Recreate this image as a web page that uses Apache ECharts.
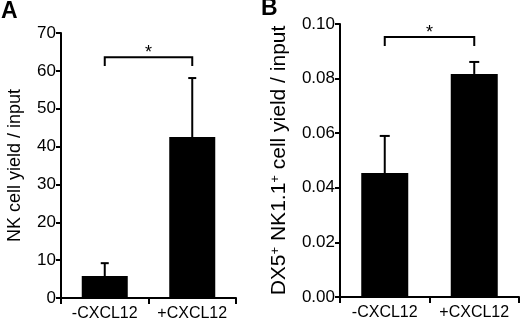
<!DOCTYPE html>
<html>
<head>
<meta charset="utf-8">
<script src="https://cdn.jsdelivr.net/npm/echarts@6/dist/echarts.min.js"></script>
<style>
html, body { margin: 0; padding: 0; background: #fff; }
#chart { width: 520px; height: 324px; }
</style>
</head>
<body>
<div id="chart"></div>
<script>
// categories shared by both panels
var categories = ['-CXCL12', '+CXCL12'];

// panel A: NK cell yield / input
var yieldA = [5.8, 42.5];
var errA = [3.4, 15.6];
var ticksA = { min: 0, max: 70, interval: 10 };
var bracketA = { y: 63.6, drop: 61.3, label: '*' };

// panel B: DX5+ NK1.1+ cell yield / input
var yieldB = [0.0454, 0.0817];
var errB = [0.0136, 0.0044];
var ticksB = { min: 0, max: 0.10, interval: 0.02 };
var bracketB = { y: 0.0952, drop: 0.0919, label: '*' };

var FONT = '"Liberation Sans", Arial, sans-serif';

function errorItems(vals, errs) {
    var out = [];
    for (var i = 0; i < vals.length; i++) {
        out.push([i, vals[i], errs[i]]);
    }
    return out;
}

function errorRender(capHalf) {
    return function (params, api) {
        var base = api.coord([api.value(0), api.value(1)]);
        var top = api.coord([api.value(0), api.value(1) + api.value(2)]);
        var st = { stroke: '#000', lineWidth: 2 };
        return {
            type: 'group',
            children: [
                { type: 'line', shape: { x1: base[0], y1: base[1], x2: top[0], y2: top[1] }, style: st },
                { type: 'line', shape: { x1: top[0] - capHalf, y1: top[1], x2: top[0] + capHalf, y2: top[1] }, style: st }
            ]
        };
    };
}

function bracketRender(br, starSize) {
    return function (params, api) {
        var l = api.coord([0, br.y]);
        var r = api.coord([1, br.y]);
        var ld = api.coord([0, br.drop]);
        var st = { stroke: '#000', lineWidth: 2, fill: null };
        return {
            type: 'group',
            children: [
                { type: 'polyline', shape: { points: [[ld[0], ld[1]], [l[0], l[1]], [r[0], r[1]], [r[0], ld[1]]] }, style: st },
                { type: 'text', x: (l[0] + r[0]) / 2, y: l[1] - 4,
                  style: { text: br.label, fill: '#000', font: starSize + 'px ' + FONT, align: 'center', verticalAlign: 'middle' } }
            ]
        };
    };
}

function catAxis(gridIndex) {
    return {
        type: 'category',
        gridIndex: gridIndex,
        data: categories,
        axisLine: { lineStyle: { color: '#000', width: 2 } },
        axisTick: { show: true, length: 6, lineStyle: { color: '#000', width: 2 } },
        axisLabel: { color: '#000', fontSize: 16, fontFamily: FONT, margin: 8, interval: 0 }
    };
}

function valAxis(gridIndex, t, name, nameGap, nameSize, fmt) {
    return {
        type: 'value',
        gridIndex: gridIndex,
        min: t.min, max: t.max, interval: t.interval,
        name: name,
        nameLocation: 'middle',
        nameGap: nameGap,
        nameTextStyle: {
            color: '#000', fontSize: nameSize, fontFamily: FONT,
            rich: { sup: { fontSize: 13, fontFamily: FONT, color: '#000', verticalAlign: 'top', padding: [0, 0, 8, 0] } }
        },
        splitLine: { show: false },
        axisLine: { show: true, lineStyle: { color: '#000', width: 2 } },
        axisTick: { show: true, length: 5, lineStyle: { color: '#000', width: 2 } },
        axisLabel: { color: '#000', fontSize: 17, fontFamily: FONT, margin: 5, formatter: fmt }
    };
}

var myChart = echarts.init(document.getElementById('chart'));

var option = {
    animation: false,
    backgroundColor: '#fff',
    title: [
        { text: 'A', left: 1, top: 0, padding: 0, textStyle: { fontSize: 23, fontWeight: 'bold', fontFamily: FONT, color: '#000' } },
        { text: 'B', left: 261, top: -3, padding: 0, textStyle: { fontSize: 23, fontWeight: 'bold', fontFamily: FONT, color: '#000' } }
    ],
    grid: [
        { left: 61, top: 33, width: 175, height: 265 },
        { left: 340, top: 24, width: 179, height: 273 }
    ],
    xAxis: [catAxis(0), catAxis(1)],
    yAxis: [
        valAxis(0, ticksA, 'NK cell yield / input', 37, 18, function (v) { return String(v); }),
        valAxis(1, ticksB, 'DX5{sup|+} NK1.1{sup|+} cell yield / input', 50, 21, function (v) { return v.toFixed(2); })
    ],
    series: [
        { type: 'bar', xAxisIndex: 0, yAxisIndex: 0, data: yieldA, barWidth: 46, itemStyle: { color: '#000' }, z: 2 },
        { type: 'custom', xAxisIndex: 0, yAxisIndex: 0, data: errorItems(yieldA, errA), renderItem: errorRender(4), z: 3 },
        { type: 'custom', xAxisIndex: 0, yAxisIndex: 0, data: [[0, bracketA.y]], renderItem: bracketRender(bracketA, 18), z: 3 },
        { type: 'bar', xAxisIndex: 1, yAxisIndex: 1, data: yieldB, barWidth: 47, itemStyle: { color: '#000' }, z: 2 },
        { type: 'custom', xAxisIndex: 1, yAxisIndex: 1, data: errorItems(yieldB, errB), renderItem: errorRender(5), z: 3 },
        { type: 'custom', xAxisIndex: 1, yAxisIndex: 1, data: [[0, bracketB.y]], renderItem: bracketRender(bracketB, 18), z: 3 }
    ]
};

myChart.setOption(option);
</script>
</body>
</html>
